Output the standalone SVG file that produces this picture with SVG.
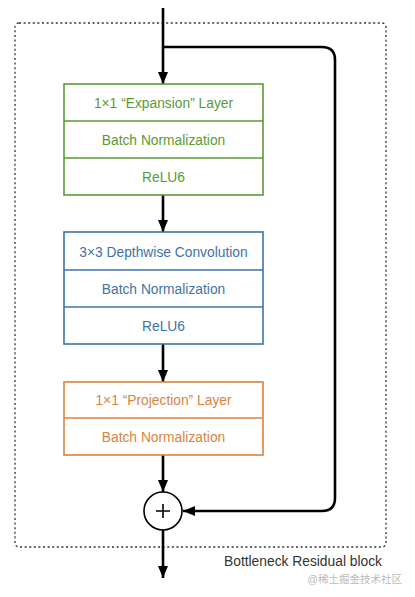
<svg xmlns="http://www.w3.org/2000/svg" width="415" height="597" viewBox="0 0 415 597">
<style>
.t{font-family:"Liberation Sans",Arial,sans-serif;font-size:13.8px;text-anchor:middle;dominant-baseline:central}
.g{fill:#fff;stroke:#5a9a35;stroke-width:1.6}
.gt{fill:#5a9a35}
.b{fill:#fff;stroke:#3e73a8;stroke-width:1.6}
.bt{fill:#3e73a8}
.o{fill:#fff;stroke:#d9843f;stroke-width:1.6}
.ot{fill:#d9843f}
.c{fill:none;stroke:#000;stroke-width:2.6}
</style>
<defs>
<marker id="ah" viewBox="0 0 12 10" refX="12" refY="5" markerWidth="12" markerHeight="10" markerUnits="userSpaceOnUse" orient="auto">
<path d="M0,0 L12,5 L0,10 Z" fill="#000"/>
</marker>
</defs>
<rect id="block" x="15" y="23" width="371" height="524" rx="4" fill="none" stroke="#333" stroke-width="1.3" stroke-dasharray="2,2.6"/>
<g id="connectors">
<line class="c" x1="163" y1="8" x2="163" y2="84" marker-end="url(#ah)"/>
<line class="c" x1="163" y1="195" x2="163" y2="232" marker-end="url(#ah)"/>
<line class="c" x1="163" y1="344" x2="163" y2="382" marker-end="url(#ah)"/>
<line class="c" x1="163" y1="455" x2="163" y2="492" marker-end="url(#ah)"/>
<line class="c" x1="163" y1="530" x2="163" y2="578" marker-end="url(#ah)"/>
<path class="c" d="M163,47 H322 Q335,47 335,60 V498 Q335,511 322,511 H183" marker-end="url(#ah)"/>
</g>
<g id="expansion">
<rect class="g" x="64" y="84" width="199" height="111"/>
<line class="g" x1="64" y1="121" x2="263" y2="121"/>
<line class="g" x1="64" y1="158" x2="263" y2="158"/>
<text class="t gt" x="163.5" y="103">1×1 “Expansion” Layer</text>
<text class="t gt" x="163.5" y="140">Batch Normalization</text>
<text class="t gt" x="163.5" y="177">ReLU6</text>
</g>
<g id="depthwise">
<rect class="b" x="64" y="232" width="199" height="112"/>
<line class="b" x1="64" y1="270" x2="263" y2="270"/>
<line class="b" x1="64" y1="307" x2="263" y2="307"/>
<text class="t bt" x="163.5" y="252">3×3 Depthwise Convolution</text>
<text class="t bt" x="163.5" y="289">Batch Normalization</text>
<text class="t bt" x="163.5" y="326">ReLU6</text>
</g>
<g id="projection">
<rect class="o" x="64" y="382" width="199" height="73"/>
<line class="o" x1="64" y1="418" x2="263" y2="418"/>
<text class="t ot" x="163.5" y="400">1×1 “Projection” Layer</text>
<text class="t ot" x="163.5" y="437">Batch Normalization</text>
</g>
<g id="add">
<circle cx="163" cy="511" r="19" fill="#fff" stroke="#000" stroke-width="1.6"/>
<path d="M156,511 H170 M163,504 V518" stroke="#000" stroke-width="1.6"/>
</g>
<text x="382" y="566" font-family="'Liberation Sans',Arial,sans-serif" font-size="13.8" fill="#333" text-anchor="end">Bottleneck Residual block</text>
<text x="402" y="583" font-family="'Liberation Sans','Noto Sans CJK SC',sans-serif" font-size="10.5" fill="#bbb" text-anchor="end">@稀土掘金技术社区</text>
</svg>
